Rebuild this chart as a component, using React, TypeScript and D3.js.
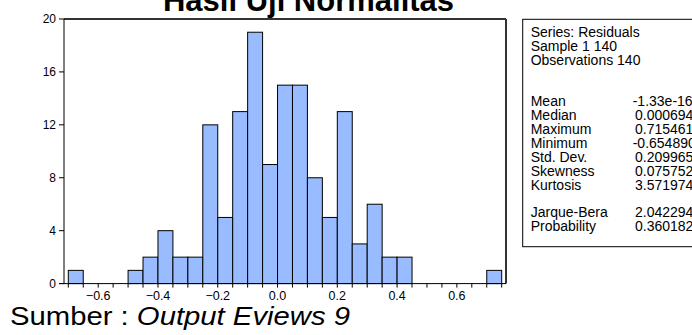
import React from 'react';
import * as d3 from 'd3';

// histogram of residuals, bins of width 0.05 starting at -0.70
const binStarts = [
  -0.7, -0.65, -0.6, -0.55, -0.5, -0.45, -0.4, -0.35, -0.3, -0.25, -0.2, -0.15, -0.1, -0.05,
  0.0, 0.05, 0.1, 0.15, 0.2, 0.25, 0.3, 0.35, 0.4, 0.45, 0.5, 0.55, 0.6, 0.65, 0.7,
];
const counts = [
  1, 0, 0, 0, 1, 2, 4, 2, 2, 12, 5, 13, 19, 9,
  15, 15, 8, 5, 13, 3, 6, 2, 2, 0, 0, 0, 0, 0, 1,
];
const binWidth = 0.05;

const yTicks = [0, 4, 8, 12, 16, 20];
const xLabels = [-0.6, -0.4, -0.2, 0.0, 0.2, 0.4, 0.6];

const headerLines = ['Series: Residuals', 'Sample 1 140', 'Observations 140'];
const statNames = ['Mean', 'Median', 'Maximum', 'Minimum', 'Std. Dev.', 'Skewness', 'Kurtosis'];
const statValues = ['-1.33e-16', '0.000694', '0.715461', '-0.654890', '0.209965', '0.075752', '3.571974'];
const testNames = ['Jarque-Bera', 'Probability'];
const testValues = ['2.042294', '0.360182'];

const title = 'Hasil Uji Normalitas';
const source = 'Sumber : ';
const sourceItalic = 'Output Eviews 9';

const W = 692;
const H = 335;
const frame = { left: 64, right: 506, top: 19, bottom: 283.6 };
const font = 'Arial, "Liberation Sans", sans-serif';

export default function App() {
  const x = d3.scaleLinear().domain([-0.7, 0.75]).range([68.3, 501.7]);
  const y = d3.scaleLinear().domain([0, 20]).range([frame.bottom, frame.top]);
  const fmt = d3.format('.1f');
  const minorTicks = d3.range(binStarts.length + 1).map((i) => -0.7 + i * binWidth);

  const boxX = 522.7;
  const textX = 530.7;
  const valX = 632.7;
  const lh = 14;

  return (
    <svg
      width={W}
      height={H}
      style={{ position: 'absolute', left: 0, top: 0, background: '#fff' }}
      fontFamily={font}
    >
      <rect x={0} y={0} width={W} height={H} fill="#fff" />
      <text x={308.5} y={11} textAnchor="middle" fontSize={31} fontWeight="bold" fill="#000">
        {title}
      </text>

      {/* bars */}
      {counts.map((c, i) =>
        c > 0 ? (
          <rect
            key={i}
            x={x(binStarts[i])}
            y={y(c)}
            width={x(binStarts[i] + binWidth) - x(binStarts[i])}
            height={y(0) - y(c)}
            fill="#99bbff"
            stroke="#000"
            strokeWidth={1}
          />
        ) : null
      )}

      {/* frame */}
      <line x1={frame.left} x2={frame.right} y1={frame.top} y2={frame.top} stroke="#333" strokeWidth={2} />
      <line x1={frame.right} x2={frame.right} y1={frame.top} y2={frame.bottom} stroke="#333" strokeWidth={2} />
      <line x1={frame.left} x2={frame.left} y1={frame.top} y2={frame.bottom} stroke="#000" strokeWidth={1} />
      <line x1={frame.left - 5} x2={frame.right} y1={frame.bottom} y2={frame.bottom} stroke="#000" strokeWidth={1} />

      {/* y axis */}
      {yTicks.map((t) => (
        <g key={t}>
          <line x1={frame.left - 5} x2={frame.left} y1={y(t)} y2={y(t)} stroke="#000" />
          <text x={56} y={y(t)} dy="0.35em" textAnchor="end" fontSize={12} fill="#000">
            {t}
          </text>
        </g>
      ))}

      {/* x axis */}
      {minorTicks.map((t, i) => (
        <line key={i} x1={x(t)} x2={x(t)} y1={frame.bottom} y2={frame.bottom + 4} stroke="#000" />
      ))}
      {xLabels.map((t) => (
        <text key={t} x={x(t)} y={300} textAnchor="middle" fontSize={12.5} fill="#000">
          {fmt(t)}
        </text>
      ))}

      {/* stats box */}
      <rect x={boxX} y={19.3} width={W - boxX + 10} height={246.7 - 19.3} fill="#fff" stroke="#000" strokeWidth={1} />
      <g fontSize={14} fill="#000">
        {headerLines.map((s, i) => (
          <text key={s} x={textX} y={32 + i * lh} dy="0.35em">
            {s}
          </text>
        ))}
        {statNames.map((s, i) => (
          <g key={s}>
            <text x={textX} y={100.7 + i * lh} dy="0.35em">
              {s}
            </text>
            <text x={valX + (statValues[i].startsWith('-') ? 0 : 2.3)} y={100.7 + i * lh} dy="0.35em">
              {statValues[i]}
            </text>
          </g>
        ))}
        {testNames.map((s, i) => (
          <g key={s}>
            <text x={textX} y={211.7 + i * lh} dy="0.35em">
              {s}
            </text>
            <text x={valX + 2.3} y={211.7 + i * lh} dy="0.35em">
              {testValues[i]}
            </text>
          </g>
        ))}
      </g>

      <text x={10} y={325} fontSize={26} fill="#000" textLength={340} lengthAdjust="spacingAndGlyphs">
        {source}
        <tspan fontStyle="italic">{sourceItalic}</tspan>
      </text>
    </svg>
  );
}
